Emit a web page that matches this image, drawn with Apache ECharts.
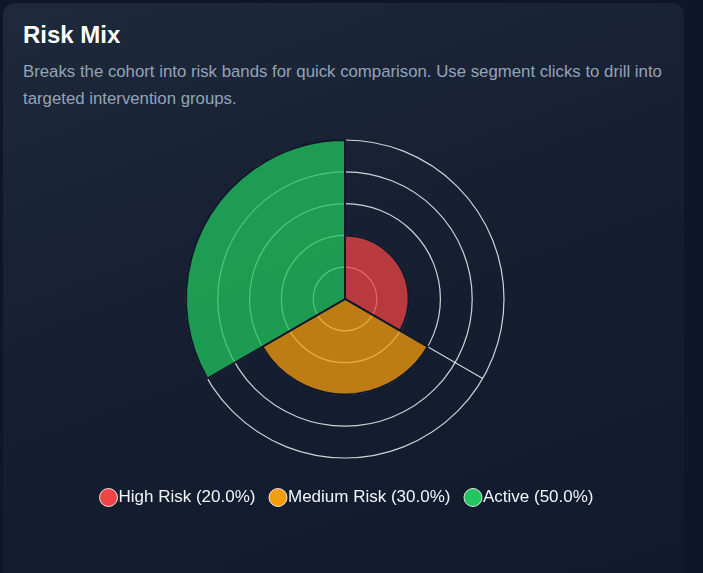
<!DOCTYPE html>
<html>
<head>
<meta charset="utf-8">
<script src="https://cdn.jsdelivr.net/npm/echarts@6/dist/echarts.min.js"></script>
<style>
  html, body {
    margin: 0;
    width: 703px;
    height: 573px;
    overflow: hidden;
    background: #0f1629;
    font-family: "Liberation Sans", Arial, sans-serif;
  }
  /* card behind the chart */
  .card {
    position: absolute;
    left: 3px;
    top: 3px;
    width: 681px;
    height: 600px;
    border-radius: 12px;
    background: linear-gradient(160deg, #1e293b 0%, #151d31 55%, #111a2c 100%);
  }
  .card h2 {
    position: absolute;
    left: 20px;
    top: 18px;
    margin: 0;
    font-size: 24px;
    font-weight: 700;
    color: #ffffff;
  }
  .card p {
    position: absolute;
    left: 20px;
    top: 55px;
    width: 660px;
    margin: 0;
    font-size: 16.8px;
    line-height: 27px;
    color: #94a3b8;
  }
  #chart {
    position: absolute;
    left: 0;
    top: 0;
    width: 703px;
    height: 573px;
  }
</style>
</head>
<body>
<div class="card">
  <h2>Risk Mix</h2>
  <p>Breaks the cohort into risk bands for quick comparison. Use segment clicks to drill into targeted intervention groups.</p>
</div>
<div id="chart"></div>
<script>
// 数据
const categories = ['High Risk', 'Medium Risk', 'Active']
const values = [20, 30, 50]
const colors = ['#ef4444', '#f59e0b', '#22c55e']
// 扇区半透明填充
const fills = ['rgba(239,68,68,0.75)', 'rgba(245,158,11,0.75)', 'rgba(34,197,94,0.75)']

const total = values.reduce((a, b) => a + b, 0)
const chart = echarts.init(document.getElementById('chart'))

chart.setOption({
  backgroundColor: 'transparent',
  polar: {
    center: [345, 299],
    radius: 159
  },
  angleAxis: {
    type: 'category',
    data: categories,
    startAngle: 90,
    clockwise: true,
    axisLine: { show: false },
    axisTick: { show: false },
    axisLabel: { show: false },
    splitLine: { show: true, lineStyle: { color: 'rgba(255,255,255,0.8)', width: 1.2 } }
  },
  radiusAxis: {
    type: 'value',
    min: 0,
    max: 50,
    interval: 10,
    axisLine: { show: false },
    axisTick: { show: false },
    axisLabel: { show: false },
    splitLine: { show: true, lineStyle: { color: 'rgba(255,255,255,0.8)', width: 1.2 } }
  },
  legend: {
    top: 483,
    left: 94,
    icon: 'circle',
    itemWidth: 18,
    itemHeight: 18,
    itemGap: 13,
    textStyle: { color: '#f1f5f9', fontSize: 17, padding: [0, 0, 0, -4] },
    formatter: name => {
      const i = categories.indexOf(name)
      return `${name} (${(values[i] / total * 100).toFixed(1)}%)`
    },
    data: categories.map((name, i) => ({
      name,
      itemStyle: { color: colors[i], borderColor: 'rgba(255,255,255,0.85)', borderWidth: 1 }
    }))
  },
  series: categories.map((name, i) => ({
    name,
    type: 'bar',
    coordinateSystem: 'polar',
    stack: 'risk',
    barCategoryGap: 0,
    data: categories.map((c, j) => (j === i ? values[i] : null)),
    itemStyle: {
      color: fills[i],
      borderColor: '#0f172a',
      borderWidth: 2
    }
  }))
})
</script>
</body>
</html>
